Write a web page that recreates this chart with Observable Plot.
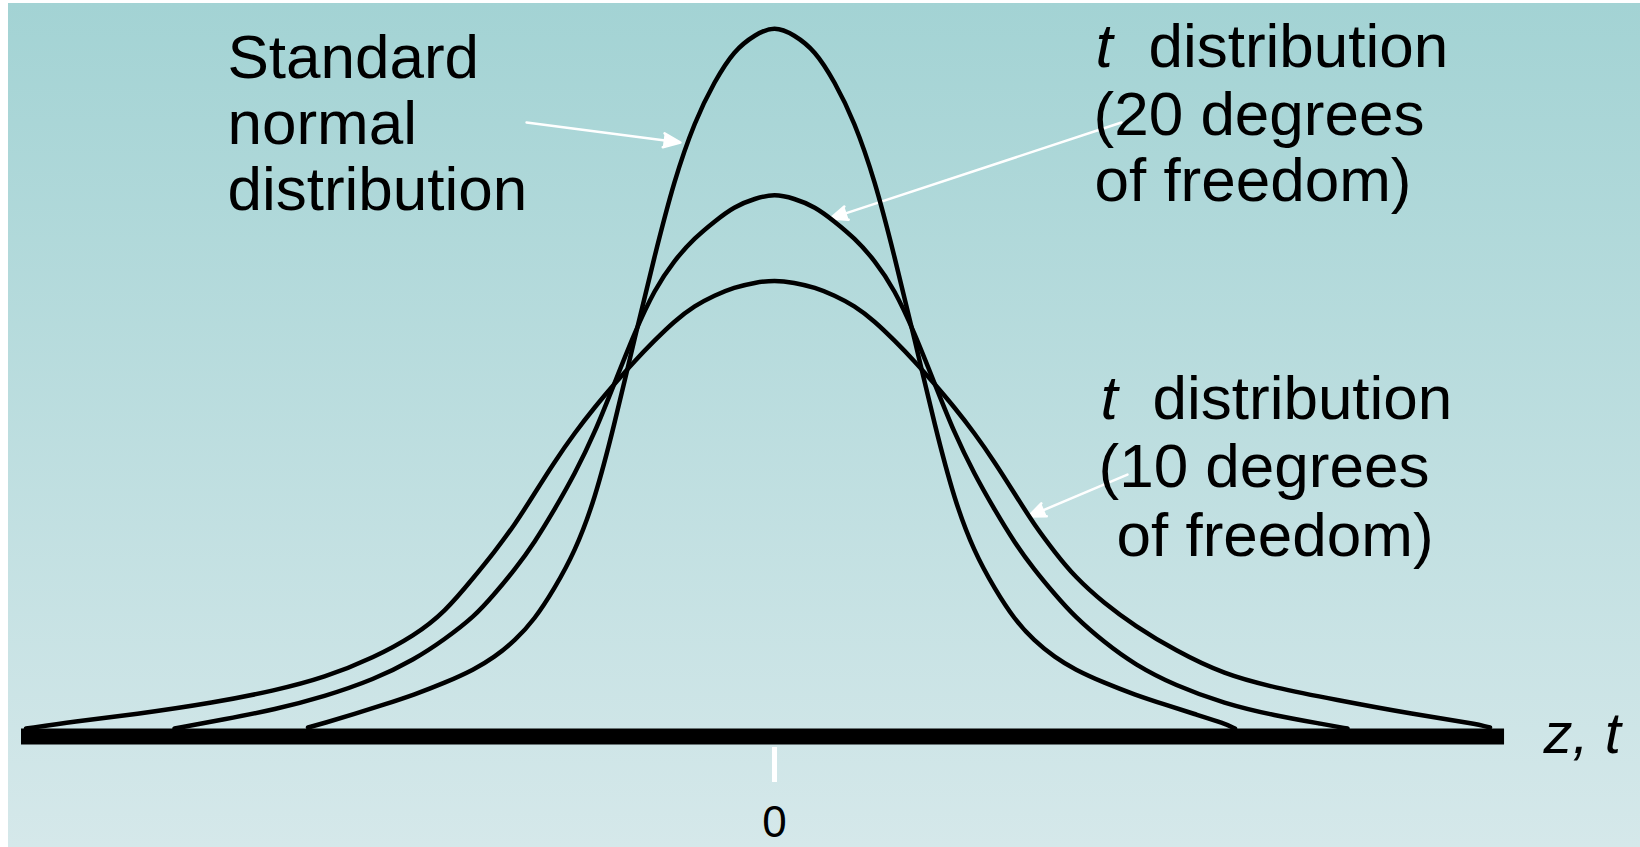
<!DOCTYPE html>
<html><head><meta charset="utf-8">
<script src="https://cdn.jsdelivr.net/npm/d3@7"></script>
<script src="https://cdn.jsdelivr.net/npm/@observablehq/plot@0.6"></script>
<style>html,body{margin:0;padding:0;background:#fff;overflow:hidden}</style>
</head><body><div id="chart"></div>
<script>
// ---- curve data (z, height) ----
const normalX = [-3.11,-3.0,-2.8,-2.6,-2.4,-2.2,-2.0,-1.87,-1.73,-1.6,-1.47,-1.33,-1.2,-1.07,-0.93,-0.8,-0.67,-0.53,-0.4,-0.27,-0.13,0,
  0.13,0.27,0.4,0.53,0.67,0.8,0.93,1.07,1.2,1.33,1.47,1.6,1.73,1.87,2.0,2.2,2.4,2.6,2.8,3.0,3.07];
const normalY = [0.0051,0.0076,0.0127,0.0181,0.0237,0.0302,0.0379,0.0446,0.0542,0.0661,0.0831,0.1045,0.1333,0.1751,0.226,0.2712,0.3141,0.348,0.3701,0.3876,0.3966,0.4015,
  0.3966,0.3876,0.3701,0.348,0.3141,0.2712,0.226,0.1751,0.1333,0.1045,0.0831,0.0661,0.0542,0.0446,0.0379,0.0302,0.0237,0.0181,0.0127,0.0074,0.0045];

const t20X = [-4.0,-3.67,-3.33,-3.0,-2.67,-2.4,-2.2,-2.0,-1.87,-1.73,-1.6,-1.47,-1.33,-1.2,-1.07,-0.93,-0.8,-0.67,-0.53,-0.4,-0.27,-0.13,0,
  0.13,0.27,0.4,0.53,0.67,0.8,0.93,1.07,1.2,1.33,1.47,1.6,1.73,1.87,2.0,2.2,2.4,2.67,3.0,3.33,3.67,3.82];
const t20Y = [0.0045,0.0096,0.0153,0.0226,0.0322,0.0435,0.0548,0.0678,0.0802,0.0944,0.1096,0.1277,0.1486,0.1712,0.1989,0.2288,0.2525,0.2689,0.2819,0.291,0.2994,0.304,0.3066,
  0.304,0.2994,0.291,0.2819,0.2689,0.2525,0.2288,0.1989,0.1712,0.1486,0.1277,0.1096,0.0944,0.0802,0.0678,0.0531,0.0407,0.0288,0.0186,0.0119,0.0068,0.0045];

const t10X = [-4.99,-4.67,-4.27,-3.73,-3.33,-3.0,-2.67,-2.4,-2.2,-2.0,-1.87,-1.73,-1.6,-1.47,-1.33,-1.2,-1.07,-0.93,-0.8,-0.67,-0.53,-0.4,-0.27,-0.13,0,
  0.13,0.27,0.4,0.53,0.67,0.8,0.93,1.07,1.2,1.33,1.47,1.6,1.73,1.87,2.0,2.2,2.4,2.67,3.0,3.33,3.73,4.27,4.67,4.77];
const t10Y = [0.0045,0.0085,0.0124,0.0192,0.026,0.0333,0.0446,0.0571,0.0701,0.0904,0.104,0.1198,0.1373,0.1548,0.1718,0.1859,0.1989,0.2124,0.2237,0.2345,0.2435,0.2492,0.2537,0.2565,0.2578,
  0.2565,0.2537,0.2492,0.2435,0.2345,0.2237,0.2124,0.1989,0.1859,0.1718,0.1548,0.1373,0.1198,0.104,0.0904,0.0751,0.0627,0.0486,0.035,0.0277,0.0209,0.0124,0.0073,0.0051];

// axis
const axisExtent = [-5.02, 4.867];
const xTicks = [0];

// annotations (data units)
const labelText = ["Standard", "normal", "distribution", "distribution", "(20 degrees", "of freedom)", "distribution", "(10 degrees", "of freedom)"];
const labelX = [-3.647, -3.647, -3.647, 2.493, 2.127, 2.133, 2.52, 2.16, 2.28];
const labelY = [0.3723, 0.335, 0.2977, 0.378, 0.3401, 0.3023, 0.1791, 0.1407, 0.1017];
const italicText = ["t", "t"];
const italicX = [2.14, 2.173];
const italicY = [0.378, 0.1791];
const axisName = "z, t";
const arrowFrom = [[-1.653, 0.3469], [2.313, 0.3469], [2.353, 0.148]];
const arrowTo = [[-0.627, 0.3356], [0.373, 0.2927], [1.693, 0.1243]];

const rows = [];
function add(name, xs, ys) { xs.forEach((x, i) => rows.push({series: name, x, y: ys[i]})); }
add("normal", normalX, normalY);
add("t20", t20X, t20Y);
add("t10", t10X, t10Y);

const labels = labelText.map((text, i) => ({text, x: labelX[i], y: labelY[i]}));
const italics = italicText.map((text, i) => ({text, x: italicX[i], y: italicY[i]}));
const arrows = arrowFrom.map((a, i) => ({x1: a[0], y1: a[1], x2: arrowTo[i][0], y2: arrowTo[i][1]}));
const baseline = [{x1: axisExtent[0], x2: axisExtent[1], y: 0}];

const font = "'Liberation Sans', Arial, Helvetica, sans-serif";

const chart = Plot.plot({
  width: 1640,
  height: 847,
  marginTop: 0, marginRight: 0, marginBottom: 100, marginLeft: 0,
  x: {domain: [-5, 5], range: [24, 1524]},
  y: {domain: [0, 0.4], range: [736, 28], axis: null},
  style: {
    background: "linear-gradient(to bottom, #a3d3d4, #d5e8ea) 8px 3px / calc(100% - 8px) calc(100% - 3px) no-repeat, #ffffff",
    fontFamily: font,
    overflow: "visible"
  },
  marks: [
    Plot.arrow(arrows, {x1: "x1", y1: "y1", x2: "x2", y2: "y2", stroke: "white", fill: "white", strokeWidth: 2.5, headLength: 11, headAngle: 45}),
    Plot.line(rows, {x: "x", y: "y", z: "series", stroke: "black", strokeWidth: 4.5, curve: "basis"}),
    Plot.ruleY(baseline, {x1: "x1", x2: "x2", y: "y", stroke: "black", strokeWidth: 16}),
    Plot.axisX({ticks: xTicks, tickSize: 35, tickPadding: 23, stroke: "white", strokeWidth: 5, fill: "black", fontSize: 44, label: null}),
    Plot.text(labels, {x: "x", y: "y", text: "text", textAnchor: "start", lineAnchor: "bottom", fontSize: 62, fill: "black"}),
    Plot.text(italics, {x: "x", y: "y", text: "text", textAnchor: "start", lineAnchor: "bottom", fontSize: 62, fontStyle: "italic", fill: "black"}),
    Plot.text([axisName], {x: 5.127, y: -0.0096, text: d => d, textAnchor: "start", lineAnchor: "bottom", fontSize: 58, fontStyle: "italic", fill: "black"})
  ]
});
document.getElementById("chart").appendChild(chart);
</script>
</body></html>
